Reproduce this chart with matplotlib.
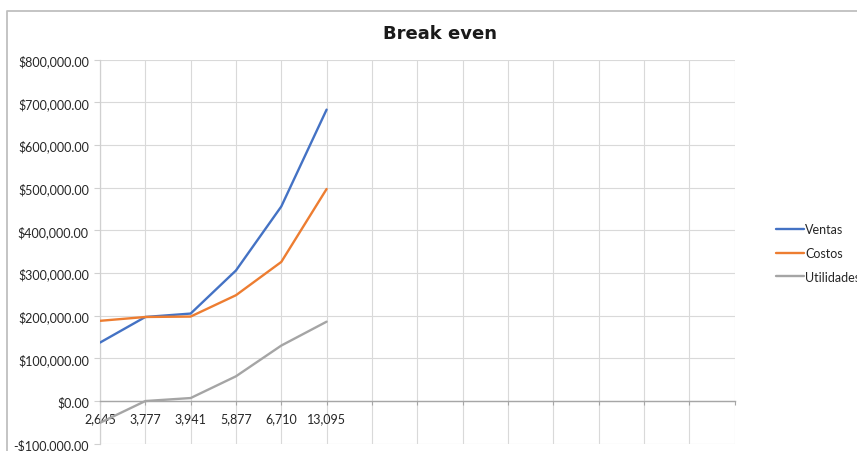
import matplotlib
matplotlib.use("Agg")
import matplotlib.pyplot as plt
from matplotlib.lines import Line2D
from matplotlib.ticker import FuncFormatter

categories = ["2,645", "3,777", "3,941", "5,877", "6,710", "13,095"]
n_slots = 15
ventas = [137000, 197000, 205000, 306000, 456000, 683000]
costos = [188000, 197000, 198000, 248000, 326000, 497000]
utilidades = [-51000, 0, 7000, 58000, 130000, 186000]
series_names = ["Ventas", "Costos", "Utilidades"]
colors = ["#4472C4", "#ED7D31", "#A5A5A5"]
title = "Break even"

plt.rcParams['font.family'] = ['Lato', 'DejaVu Sans']

W, H = 857, 452
fig = plt.figure(figsize=(W / 100, H / 100), dpi=100)
ax = fig.add_axes([100 / W, 1 - 444.7 / H, (734.5 - 100) / W, (444.7 - 60.7) / H])

x = list(range(len(categories)))
for vals, name, c in zip([ventas, costos, utilidades], series_names, colors):
    ax.plot(x, vals, color=c, lw=1.7, label=name, solid_capstyle='round', zorder=3)

ax.set_xlim(0, n_slots - 1)
ax.set_ylim(-100000, 800000)
ax.set_yticks(range(-100000, 800001, 100000))


def fmt(v, p):
    return f"${v:,.2f}" if v >= 0 else f"-${-v:,.2f}"


ax.yaxis.set_major_formatter(FuncFormatter(fmt))
ax.set_xticks(range(n_slots))
ax.set_xticklabels(categories + [""] * (n_slots - len(categories)))
ax.grid(color="#d9d9d9", lw=0.8, zorder=0)
ax.set_axisbelow(True)

for s in ['top', 'right']:
    ax.spines[s].set_visible(False)
ax.spines['left'].set_color('#d0d0d0')
ax.spines['left'].set_linewidth(0.9)
ax.spines['bottom'].set_position(('data', 0))
ax.spines['bottom'].set_color('#a6a6a6')
ax.spines['bottom'].set_linewidth(1.0)

ax.tick_params(axis='x', length=3, color='#a6a6a6', pad=5, labelsize=9, labelcolor='#262626')
ax.tick_params(axis='y', length=4, color='#d0d0d0', pad=4, labelsize=9, labelcolor='#262626')

fig.text(440 / W, 1 - 34 / H, title, ha='center', va='center', fontsize=13,
         fontweight='bold', color='#1a1a1a', family=['DejaVu Sans'])

fig.legend(loc='upper left', bbox_to_anchor=(776 / W, 1 - 224 / H), frameon=False,
           borderpad=0, borderaxespad=0, handlelength=2.2, handletextpad=0.15,
           labelspacing=0.95, fontsize=9, labelcolor='#262626')

fig.add_artist(Line2D([7.5 / W, 7.5 / W, 1], [0, 1 - 12 / H, 1 - 12 / H],
                      transform=fig.transFigure, color='#bfbfbf', lw=1.3))

fig.savefig("out.png", dpi=100)
